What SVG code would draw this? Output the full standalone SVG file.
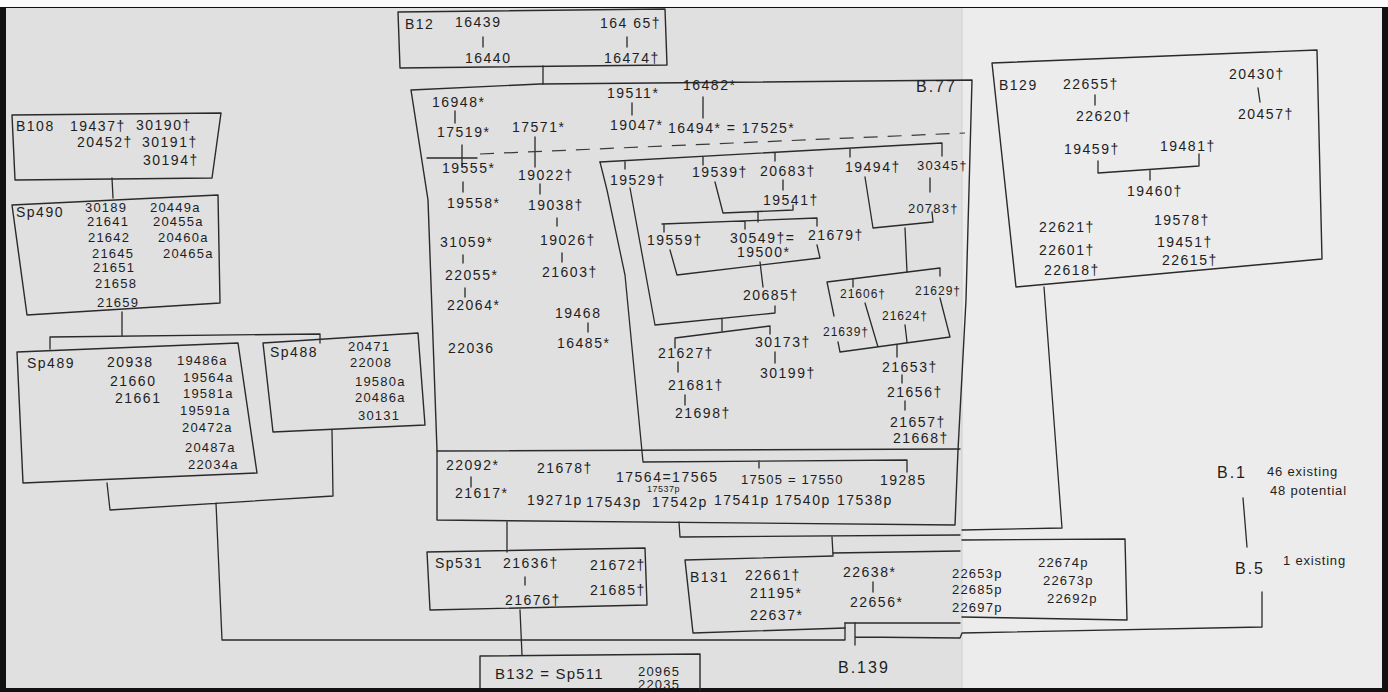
<svg xmlns="http://www.w3.org/2000/svg" width="1388" height="692" viewBox="0 0 1388 692">
<style>
.bx{fill:none;stroke:#2a2a2a;stroke-width:1.4;stroke-linejoin:round;stroke-linecap:round}
.c{fill:none;stroke:#2a2a2a;stroke-width:1.3;stroke-linejoin:round;stroke-linecap:round}
.d{fill:none;stroke:#3a3a3a;stroke-width:1.2;stroke-dasharray:14 10}
text{font-family:"Liberation Sans",Arial,sans-serif;font-size:14px;letter-spacing:1.5px;fill:#1e1e1e}
.s{font-size:12px;letter-spacing:1px}
.k{font-size:13px;letter-spacing:1.2px}
.xs{font-size:9px;letter-spacing:0.5px}
.l{font-size:16px;letter-spacing:2px}
.l2{font-size:15px;letter-spacing:1.2px}
.m{font-size:13px;letter-spacing:0.8px}
</style>
<rect x="0" y="0" width="1388" height="692" fill="#111"/>
<rect x="0" y="0" width="1388" height="7" fill="#fafafa"/>
<rect x="6" y="8" width="958" height="680" fill="#e0e0e0"/>
<rect x="962" y="8" width="420" height="680" fill="#ececec"/>
<line x1="962" y1="8" x2="962" y2="688" stroke="#d0d0d0" stroke-width="1"/>

<g id="connectors">
<path class="c" d="M543,66 L543,84"/>
<path class="c" d="M483,37 L483,47 M627,37 L627,47"/>
<path class="c" d="M112,178 L113,198"/>
<path class="c" d="M122,312 L122,335 M50,349 L50,337 L320,334 L320,343"/>
<path class="c" d="M107,483 L110,510 L333,496 L332,430 M216,503 L222,640 L845,640 L845,623"/>
<path class="c" d="M455,111 L455,123 M427,158 L477,158 M462,145 L462,166 M535,137 L535,167 M632,103 L632,115 M703,97 L703,118"/>
<path class="d" d="M480,154 L965,133"/>
<path class="c" d="M463,182 L463,192 M540,184 L540,194 M557,218 L557,226 M562,253 L562,262 M463,255 L463,263 M465,288 L465,297 M588,323 L588,332"/>
<path class="c" d="M600,162 L942,143 M625,161 L625,169 M703,157 L703,165 M775,153 L775,161 M850,149 L850,157 M942,143 L942,156"/>
<path class="c" d="M600,162 L607,190 L625,275 L643,462 L907,460 L907,472 M759,461 L759,468"/>
<path class="c" d="M783,180 L783,190 M930,178 L930,192"/>
<path class="c" d="M715,182 L723,213 L793,210 L793,205 M758,212 L758,222"/>
<path class="c" d="M662,224 L817,218 M664,224 L664,232 M745,221 L745,229 M817,218 L817,226"/>
<path class="c" d="M670,250 L677,275 L820,258 L817,245 M760,262 L763,287"/>
<path class="c" d="M630,188 L655,325 L775,313 L775,306 M722,319 L722,331"/>
<path class="c" d="M675,348 L675,338 L770,326 L770,334 M678,362 L678,372 M685,395 L685,405 M775,352 L775,363"/>
<path class="c" d="M865,177 L873,228 L933,222 L932,212 M905,228 L907,272"/>
<path class="c" d="M827,282 L940,268 L940,276 M853,280 L853,287 M940,298 L950,337 L840,352 L838,342 M827,282 L834,316 M865,303 L878,347 M905,325 L907,342"/>
<path class="c" d="M897,345 L897,357 M902,375 L902,383 M905,401 L905,410"/>
<path class="c" d="M471,477 L471,487"/>
<path class="c" d="M507,522 L507,552 M525,577 L525,585 M520,610 L522,655"/>
<path class="c" d="M679,522 L680,537 L960,535 M832,537 L833,555"/>
<path class="c" d="M873,582 L873,592"/>
<path class="c" d="M1044,287 L1062,528 L962,530"/>
<path class="c" d="M855,623 L855,645 M855,637 L960,638 L962,633 L1262,627 L1262,592"/>
<path class="c" d="M1243,498 L1247,547"/>
<path class="c" d="M1095,95 L1095,105 M1258,88 L1260,102 M1098,161 L1098,173 L1199,166 L1199,154 M1150,170 L1150,180"/>
</g>

<g id="b12">
<path class="bx" d="M398,12 L665,9 L667,65 L400,68 Z"/>
<text x="405" y="29">B12</text>
<text x="455" y="27">16439</text>
<text x="465" y="63">16440</text>
<text x="600" y="28">164 65†</text>
<text x="604" y="63">16474†</text>
</g>

<g id="b77">
<path class="bx" d="M411,90 L540,84 L972,80 L966,300 L958,450 L955,525 L437,520 L437,450 L428,200 Z"/>
<path class="bx" d="M437,451 L960,449"/>
<text class="l" x="916" y="92">B.77</text>
<text x="432" y="107">16948*</text>
<text x="437" y="137">17519*</text>
<text x="512" y="132">17571*</text>
<text x="607" y="98">19511*</text>
<text x="610" y="130">19047*</text>
<text x="683" y="90">16482*</text>
<text x="668" y="133">16494* = 17525*</text>
<text x="442" y="173">19555*</text>
<text x="447" y="208">19558*</text>
<text x="518" y="180">19022†</text>
<text x="528" y="210">19038†</text>
<text x="540" y="245">19026†</text>
<text x="542" y="277">21603†</text>
<text x="440" y="247">31059*</text>
<text x="445" y="280">22055*</text>
<text x="447" y="310">22064*</text>
<text x="448" y="353">22036</text>
<text x="555" y="318">19468</text>
<text x="557" y="348">16485*</text>
<text x="610" y="185">19529†</text>
<text x="692" y="177">19539†</text>
<text x="760" y="176">20683†</text>
<text x="845" y="172">19494†</text>
<text class="k" x="917" y="170">30345†</text>
<text x="763" y="205">19541†</text>
<text class="k" x="908" y="213">20783†</text>
<text x="647" y="245">19559†</text>
<text x="730" y="243">30549†=</text>
<text x="808" y="240">21679†</text>
<text x="737" y="257">19500*</text>
<text x="743" y="300">20685†</text>
<text class="s" x="840" y="298">21606†</text>
<text class="s" x="915" y="295">21629†</text>
<text class="s" x="882" y="320">21624†</text>
<text class="s" x="823" y="336">21639†</text>
<text x="658" y="358">21627†</text>
<text x="668" y="390">21681†</text>
<text x="675" y="418">21698†</text>
<text x="755" y="347">30173†</text>
<text x="760" y="378">30199†</text>
<text x="882" y="372">21653†</text>
<text x="887" y="397">21656†</text>
<text x="890" y="427">21657†</text>
<text x="893" y="443">21668†</text>
<text x="446" y="470">22092*</text>
<text x="455" y="498">21617*</text>
<text x="537" y="473">21678†</text>
<text x="616" y="482">17564=17565</text>
<text class="xs" x="647" y="492">17537p</text>
<text class="k" x="741" y="484">17505 = 17550</text>
<text x="880" y="485">19285</text>
<text x="527" y="505">19271p</text>
<text x="586" y="507">17543p</text>
<text x="652" y="507">17542p</text>
<text x="714" y="505">17541p</text>
<text x="775" y="505">17540p</text>
<text x="837" y="505">17538p</text>
</g>

<g id="b108">
<path class="bx" d="M12,115 L221,113 L212,178 L15,180 Z"/>
<text x="16" y="131">B108</text>
<text x="70" y="131">19437†</text>
<text x="136" y="130">30190†</text>
<text x="77" y="147">20452†</text>
<text x="142" y="147">30191†</text>
<text x="143" y="165">30194†</text>
</g>

<g id="sp490">
<path class="bx" d="M12,205 L218,195 L220,303 L27,315 Z"/>
<text x="16" y="217">Sp490</text>
<text class="k" x="85" y="212">30189</text>
<text class="k" x="87" y="226">21641</text>
<text class="k" x="88" y="242">21642</text>
<text class="k" x="92" y="258">21645</text>
<text class="k" x="93" y="272">21651</text>
<text class="k" x="95" y="288">21658</text>
<text class="k" x="97" y="307">21659</text>
<text class="k" x="150" y="212">20449a</text>
<text class="k" x="153" y="226">20455a</text>
<text class="k" x="158" y="242">20460a</text>
<text class="k" x="163" y="258">20465a</text>
</g>

<g id="sp489">
<path class="bx" d="M17,352 L238,343 L257,473 L23,483 Z"/>
<text x="27" y="368">Sp489</text>
<text x="107" y="367">20938</text>
<text x="110" y="386">21660</text>
<text x="115" y="403">21661</text>
<text class="k" x="177" y="365">19486a</text>
<text class="k" x="183" y="382">19564a</text>
<text class="k" x="183" y="398">19581a</text>
<text class="k" x="180" y="415">19591a</text>
<text class="k" x="182" y="432">20472a</text>
<text class="k" x="185" y="452">20487a</text>
<text class="k" x="188" y="469">22034a</text>
</g>

<g id="sp488">
<path class="bx" d="M263,343 L418,333 L425,425 L273,432 Z"/>
<text x="270" y="357">Sp488</text>
<text class="k" x="348" y="351">20471</text>
<text class="k" x="350" y="367">22008</text>
<text class="k" x="355" y="386">19580a</text>
<text class="k" x="355" y="402">20486a</text>
<text class="k" x="358" y="420">30131</text>
</g>

<g id="b129">
<path class="bx" d="M992,63 L1317,50 L1322,259 L1016,287 Z"/>
<text x="999" y="90">B129</text>
<text x="1063" y="89">22655†</text>
<text x="1076" y="121">22620†</text>
<text x="1229" y="79">20430†</text>
<text x="1238" y="119">20457†</text>
<text x="1064" y="154">19459†</text>
<text x="1160" y="151">19481†</text>
<text x="1127" y="196">19460†</text>
<text x="1039" y="232">22621†</text>
<text x="1039" y="255">22601†</text>
<text x="1044" y="275">22618†</text>
<text x="1154" y="225">19578†</text>
<text x="1157" y="247">19451†</text>
<text x="1162" y="265">22615†</text>
</g>

<g id="sp531">
<path class="bx" d="M427,552 L645,548 L647,605 L430,610 Z"/>
<text x="435" y="568">Sp531</text>
<text x="503" y="568">21636†</text>
<text x="505" y="605">21676†</text>
<text x="590" y="570">21672†</text>
<text x="590" y="595">21685†</text>
</g>

<g id="b132">
<path class="bx" d="M480,688 L480,656 L700,654 L700,690"/>
<text class="l2" x="495" y="679">B132 = Sp511</text>
<text class="k" x="638" y="676">20965</text>
<text class="k" x="638" y="689">22035</text>
</g>

<g id="b131">
<path class="bx" d="M685,560 L833,556 M833,553 L960,551 M685,560 L693,633 L845,628 M845,623 L960,623"/>
<path class="bx" d="M962,540 L1125,539 L1127,620 L962,617"/>
<text x="690" y="582">B131</text>
<text x="745" y="580">22661†</text>
<text x="750" y="598">21195*</text>
<text x="750" y="620">22637*</text>
<text x="843" y="577">22638*</text>
<text x="850" y="607">22656*</text>
<text class="k" x="952" y="578">22653p</text>
<text class="k" x="952" y="594">22685p</text>
<text class="k" x="952" y="612">22697p</text>
<text class="k" x="1038" y="567">22674p</text>
<text class="k" x="1043" y="585">22673p</text>
<text class="k" x="1047" y="603">22692p</text>
</g>

<g id="b139">
<text class="l" x="838" y="673">B.139</text>
</g>

<g id="b1">
<text class="l" x="1217" y="478">B.1</text>
<text class="m" x="1267" y="476">46 existing</text>
<text class="m" x="1270" y="495">48 potential</text>
</g>

<g id="b5">
<text class="l" x="1235" y="574">B.5</text>
<text class="m" x="1283" y="565">1 existing</text>
</g>
</svg>
